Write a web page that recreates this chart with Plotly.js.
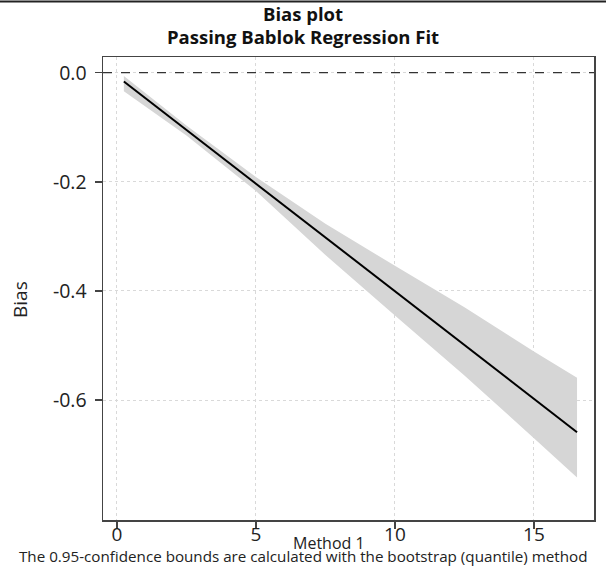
<!DOCTYPE html>
<html>
<head>
<meta charset="utf-8">
<script src="https://cdn.plot.ly/plotly-3.0.1.min.js"></script>
<style>html,body{margin:0;padding:0;background:#fff;}#chart{width:606px;height:566px;}</style>
</head>
<body>
<div id="chart"></div>
<script>
// Regression fit line (bias vs Method 1)
const fitX = [0.25, 16.55];
const fitY = [-0.016, -0.659];
// Confidence band (bootstrap quantile)
const bandX = [0.25, 2.5, 5, 7.5, 10, 12.5, 15, 16.55];
const bandUpper = [-0.006, -0.097, -0.191, -0.277, -0.354, -0.430, -0.511, -0.559];
const bandLower = [-0.034, -0.115, -0.217, -0.334, -0.445, -0.555, -0.670, -0.742];
const xTicks = [0, 5, 10, 15];
const yTicks = [0, -0.2, -0.4, -0.6];
const yTickLabels = ['0.0', '-0.2', '-0.4', '-0.6'];

const FONT = 'Open Sans, Noto Sans, sans-serif';

const traces = [
  {x: bandX, y: bandLower, mode: 'lines', line: {width: 0, color: 'rgba(0,0,0,0)'}, hoverinfo: 'skip', showlegend: false},
  {x: bandX, y: bandUpper, mode: 'lines', line: {width: 0, color: 'rgba(0,0,0,0)'}, fill: 'tonexty', fillcolor: '#d6d6d6', hoverinfo: 'skip', showlegend: false},
  {x: fitX, y: fitY, mode: 'lines', line: {color: '#000', width: 2}, showlegend: false}
];

const L = 103, R = 12, T = 57, B = 46, W = 606, H = 566;
const pw = W - L - R, ph = H - T - B;
const py = p => (H - B - p) / ph;   // pixel row -> paper y
const px = p => (p - L) / pw;       // pixel col -> paper x

const layout = {
  width: W, height: H,
  margin: {l: L, r: R, t: T, b: B, pad: 0},
  paper_bgcolor: '#fff', plot_bgcolor: '#fff',
  font: {family: FONT, color: '#222'},
  xaxis: {
    range: [-0.5, 17.16],
    tickvals: xTicks, ticktext: xTicks.map(String),
    ticks: 'outside', ticklen: 7, tickwidth: 1.5, tickcolor: '#444',
    ticklabelstandoff: -10,
    tickfont: {family: FONT, size: 19, color: '#222'},
    showline: true, linecolor: '#444', linewidth: 1.5, mirror: true,
    showgrid: true, gridcolor: '#d9d9d9', griddash: 'dot', gridwidth: 1,
    zeroline: false
  },
  yaxis: {
    range: [-0.820, 0.0288],
    tickvals: yTicks, ticktext: yTickLabels,
    ticks: 'outside', ticklen: 7, tickwidth: 1.5, tickcolor: '#444',
    ticklabelstandoff: 4,
    tickfont: {family: FONT, size: 19.5, color: '#222'},
    showline: true, linecolor: '#444', linewidth: 1.5, mirror: true,
    showgrid: true, gridcolor: '#d9d9d9', griddash: 'dot', gridwidth: 1,
    zeroline: false
  },
  shapes: [
    {type: 'line', xref: 'paper', yref: 'y', x0: 0, x1: 1, y0: 0, y1: 0,
     line: {color: '#333', width: 1.3, dash: 'dash'}},
    {type: 'line', xref: 'paper', yref: 'paper', x0: -L/pw, x1: 1 + R/pw,
     y0: py(1.5), y1: py(1.5), line: {color: '#222', width: 2}}
  ],
  annotations: [
    {text: '<b>Bias plot</b>', xref: 'paper', yref: 'paper', x: px(W/2), y: py(13),
     xanchor: 'center', yanchor: 'middle', showarrow: false,
     font: {family: FONT, size: 18.5, color: '#111'}},
    {text: '<b>Passing Bablok Regression Fit</b>', xref: 'paper', yref: 'paper', x: px(W/2), y: py(36),
     xanchor: 'center', yanchor: 'middle', showarrow: false,
     font: {family: FONT, size: 18.5, color: '#111'}},
    {text: 'Bias', xref: 'paper', yref: 'paper', x: px(20), y: py(300), textangle: -90,
     xanchor: 'center', yanchor: 'middle', showarrow: false,
     font: {family: FONT, size: 19, color: '#222'}},
    {text: 'Method 1', xref: 'paper', yref: 'paper', x: px(329), y: py(543),
     xanchor: 'center', yanchor: 'middle', showarrow: false,
     font: {family: FONT, size: 16, color: '#222'}},
    {text: 'The 0.95-confidence bounds are calculated with the bootstrap (quantile) method',
     xref: 'paper', yref: 'paper', x: px(W/2), y: py(556),
     xanchor: 'center', yanchor: 'middle', showarrow: false,
     font: {family: FONT, size: 15.2, color: '#222'}}
  ]
};

Plotly.newPlot('chart', traces, layout, {displayModeBar: false, staticPlot: true});
</script>
</body>
</html>
